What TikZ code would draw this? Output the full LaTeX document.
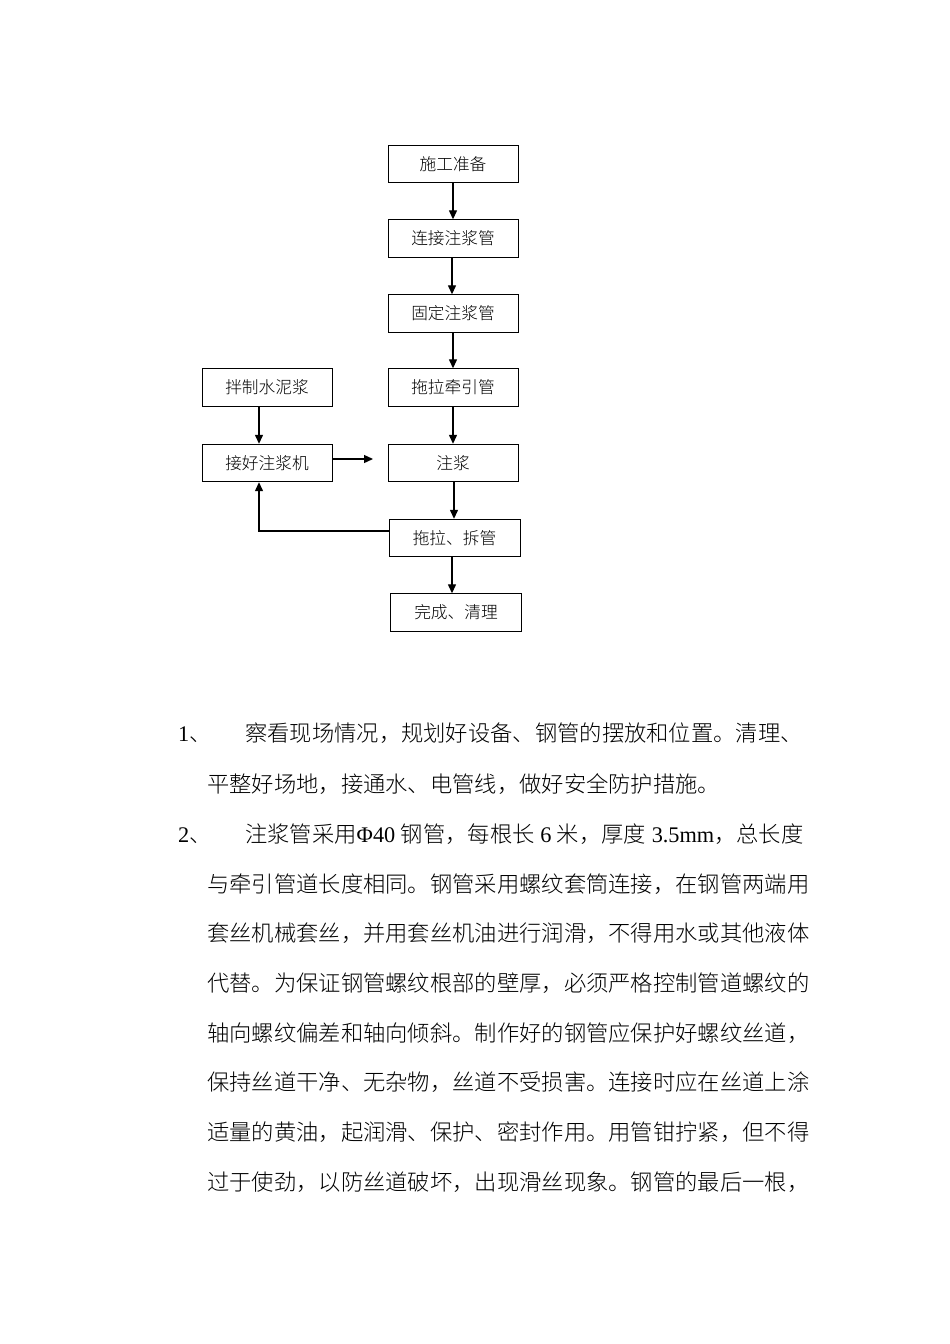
\documentclass[tikz,border=0pt]{standalone}
\usepackage{fontspec}
\IfFontExistsTF{Noto Sans CJK SC Light}
  {\setmainfont{Noto Sans CJK SC Light}}
  {\setmainfont{Noto Sans CJK SC}}
\newfontfamily\lat{Liberation Serif}
\usetikzlibrary{arrows.meta,calc}
\begin{document}
\begin{tikzpicture}[x=1pt,y=-1pt,
  box/.style={draw, line width=0.9pt, minimum width=130pt, minimum height=37.5pt, inner sep=0pt, font=\fontsize{16.7}{20}\selectfont},
  arr/.style={-{Triangle[length=9pt,width=8pt]}, line width=1.3pt},
  ln/.style={anchor=west, inner sep=0pt, text height=19.6pt, text depth=2.7pt, font=\fontsize{22.3}{26}\selectfont}]
\fill[white] (0,0) rectangle (950,1344);
\useasboundingbox (0,0) rectangle (950,1344);
% boxes
\node[box] (prep)  at (453,164)   {施工准备};
\node[box] (conn)  at (453,238.5) {连接注浆管};
\node[box] (fix)   at (453,313.5) {固定注浆管};
\node[box] (pull)  at (453,387.5) {拖拉牵引管};
\node[box] (mix)   at (267,387.5) {拌制水泥浆};
\node[box] (mach)  at (267,463)   {接好注浆机};
\node[box] (grout) at (453,463)   {注浆};
\node[box, minimum width=131pt] (drag)  at (454.5,538) {拖拉、拆管};
\node[box, minimum width=131pt] (done)  at (456,612.5) {完成、清理};
\coordinate (free) at (373,459);
% connectors
\draw[arr] (prep.south) -- (prep.south |- conn.north);
\draw[arr] ([xshift=-1pt]conn.south) -- ([xshift=-1pt]conn.south |- fix.north);
\draw[arr] (fix.south) -- (fix.south |- pull.north);
\draw[arr] (pull.south) -- (pull.south |- grout.north);
\draw[arr] ([xshift=1pt]grout.south) -- ([xshift=1pt]grout.south |- drag.north);
\draw[arr] ([xshift=-2.5pt]drag.south) -- ([xshift=-2.5pt]drag.south |- done.north);
\draw[arr] ([xshift=-8pt]mix.south) -- ([xshift=-8pt]mach.north);
\draw[arr] (mach.east |- free) -- (free);
\draw[arr] ([yshift=7pt]drag.west) -| ([xshift=-8pt]mach.south);
% text
\node[ln] (n1) at (178,733.5) {{\lat 1}、};
\node[ln] (l1) at (245,733.5) {察看现场情况，规划好设备、钢管的摆放和位置。清理、};
\node[ln] (l2) at (207,784) {平整好场地，接通水、电管线，做好安全防护措施。};
\node[ln] (n2) at (178,834) {{\lat 2}、};
\node[ln] (l3) at (245,834) {注浆管采用{\lat Φ40 }钢管，每根长{\lat\ 6 }米，厚度{\lat\ 3.5mm}，总长度};
\node[ln] (l4) at (207,884) {与牵引管道长度相同。钢管采用螺纹套筒连接，在钢管两端用};
\node[ln] (l5) at (207,933.5) {套丝机械套丝，并用套丝机油进行润滑，不得用水或其他液体};
\node[ln] (l6) at (207,983) {代替。为保证钢管螺纹根部的壁厚，必须严格控制管道螺纹的};
\node[ln] (l7) at (207,1033) {轴向螺纹偏差和轴向倾斜。制作好的钢管应保护好螺纹丝道，};
\node[ln] (l8) at (207,1082.5) {保持丝道干净、无杂物，丝道不受损害。连接时应在丝道上涂};
\node[ln] (l9) at (207,1132) {适量的黄油，起润滑、保护、密封作用。用管钳拧紧，但不得};
\node[ln] (l10) at (207,1182) {过于使劲，以防丝道破坏，出现滑丝现象。钢管的最后一根，};
\end{tikzpicture}
\end{document}
